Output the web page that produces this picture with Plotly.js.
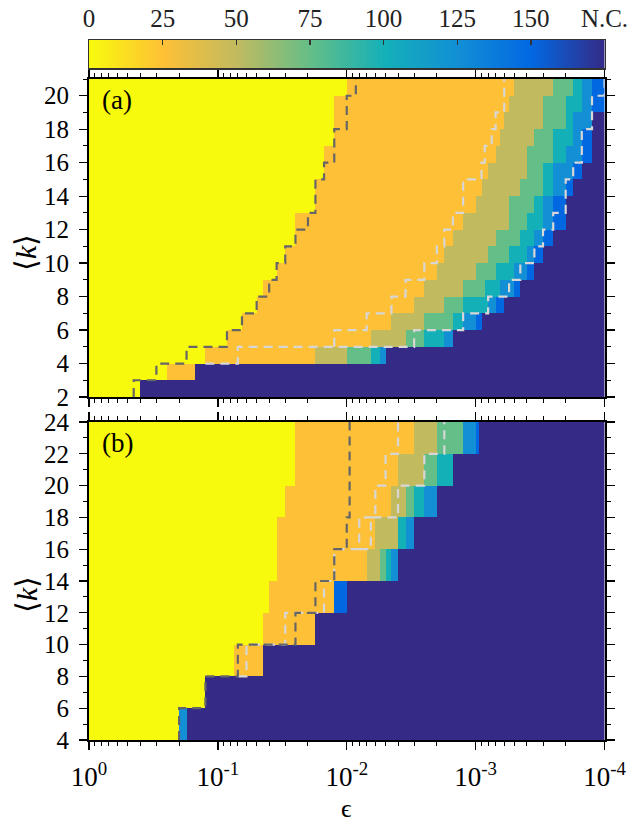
<!DOCTYPE html>
<html><head><meta charset="utf-8">
<script src="https://cdn.plot.ly/plotly-3.0.1.min.js"></script>
<style>html,body{margin:0;padding:0;background:#fff;} #chart{width:628px;height:825px;}</style>
</head><body><div id="chart"></div>
<script>
// ---------------- DATA ----------------
const NC = 175; // "not converged" level
// colour-bar ticks
const cbTicks  = [0, 25, 50, 75, 100, 125, 150, 175];
const cbLabels = ['0', '25', '50', '75', '100', '125', '150', 'N.C.'];
// x axis decades
const decades = [1, 0.1, 0.01, 0.001, 0.0001];
const decadeLabels = ['10<sup>0</sup>', '10<sup>-1</sup>', '10<sup>-2</sup>', '10<sup>-3</sup>', '10<sup>-4</sup>'];

// Panel (a): rows <k> = k .. k+1 ; edges in epsilon (from 1 down to 1e-4), values per segment
const kA = [2,3,4,5,6,7,8,9,10,11,12,13,14,15,16,17,18,19,20];
const edgesA = [
  [1,0.4,1e-4],
  [1,0.25,0.15,1e-4],
  [1,0.125,0.0175,0.01,0.0065,0.0055,0.005,1e-4],
  [1,0.085,0.0065,0.0035,0.0025,0.00175,0.0015,1e-4],
  [1,0.065,0.0045,0.0025,0.0015,0.00125,0.001,0.0009,1e-4],
  [1,0.05,0.003,0.00175,0.00125,0.0008,0.0007,0.0006,1e-4],
  [1,0.045,0.0025,0.00125,0.00085,0.00065,0.0005,0.00045,1e-4],
  [1,0.035,0.002,0.001,0.0007,0.0005,0.0004,0.00035,1e-4],
  [1,0.03,0.00175,0.0008,0.00055,0.0004,0.00035,0.0003,1e-4],
  [1,0.025,0.0015,0.0007,0.00045,0.00035,0.0003,0.00025,1e-4],
  [1,0.025,0.00125,0.00055,0.0004,0.0003,0.00025,0.0002,1e-4],
  [1,0.0175,0.001,0.00055,0.00035,0.0003,0.00025,0.0002,1e-4],
  [1,0.0175,0.0009,0.00045,0.0003,0.00025,0.0002,0.000175,1e-4],
  [1,0.015,0.0008,0.0004,0.0003,0.00025,0.000175,0.00015,1e-4],
  [1,0.015,0.0007,0.0004,0.00025,0.0002,0.00015,0.000125,1e-4],
  [1,0.0125,0.00065,0.00035,0.00025,0.000175,0.00015,0.000125,1e-4],
  [1,0.0125,0.0006,0.0003,0.0002,0.000175,0.000125,1e-4],
  [1,0.0125,0.00055,0.0003,0.0002,0.00015,0.000125,1e-4],
  [1,0.01,0.0005,0.00025,0.000175,0.00015,0.000125,1e-4]
];
const valuesA = [
  [0,NC],
  [0,25,NC],
  [0,25,50,75,100,125,NC],
  [0,25,50,75,100,125,NC],
  [0,25,50,75,100,125,150,NC],
  [0,25,50,75,100,125,150,NC],
  [0,25,50,75,100,125,150,NC],
  [0,25,50,75,100,125,150,NC],
  [0,25,50,75,100,125,150,NC],
  [0,25,50,75,100,125,150,NC],
  [0,25,50,75,100,125,150,NC],
  [0,25,50,75,100,125,150,NC],
  [0,25,50,75,100,125,150,NC],
  [0,25,50,75,100,125,150,NC],
  [0,25,50,75,100,125,150,NC],
  [0,25,50,75,100,125,150,NC],
  [0,25,50,75,100,125,NC],
  [0,25,50,75,100,125,150],
  [0,25,50,75,100,125,150]
];

// Panel (b): rows <k> = k .. k+2
const kB = [4,6,8,10,12,14,16,18,20,22];
const edgesB = [
  [1,0.2,0.175,1e-4],
  [1,0.125,1e-4],
  [1,0.075,0.045,1e-4],
  [1,0.045,0.0175,1e-4],
  [1,0.04,0.0125,0.01,1e-4],
  [1,0.035,0.007,0.0055,0.005,0.0045,0.004,1e-4],
  [1,0.035,0.006,0.004,0.0035,0.003,1e-4],
  [1,0.03,0.0045,0.0035,0.003,0.0025,0.002,1e-4],
  [1,0.025,0.004,0.0025,0.002,0.0015,1e-4],
  [1,0.025,0.003,0.002,0.00125,0.001,0.00095,1e-4]
];
const valuesB = [
  [0,125,NC],
  [0,NC],
  [0,25,NC],
  [0,25,NC],
  [0,25,150,NC],
  [0,25,50,75,100,125,NC],
  [0,25,50,100,125,NC],
  [0,25,50,75,100,125,NC],
  [0,25,50,75,100,NC],
  [0,25,50,75,125,150,NC]
];

// dashed boundary lines (vertical-then-horizontal staircases)
const darkA_eps = [0.45,0.3,0.175,0.085,0.065,0.05,0.04,0.035,0.03,0.025,0.02,0.0175,0.015,0.0125,0.01,0.0085,0.0085];
const darkA_k   = [2,3,4,5,6,7,8,9,10,11,12,13,15,16,18,20,21];
const lightA1_eps = [0.0125,0.007,0.0045,0.0035,0.0025,0.002,0.00175,0.0015,0.00125,0.0009,0.00085,0.00075,0.0007,0.0006,0.0006];
const lightA1_k   = [5,6,7,8,9,10,11,12,13,15,16,17,18,19,21];
const lightA2_eps = [0.125,0.07,0.003,0.00125,0.0008,0.00055,0.00045,0.00035,0.0003,0.00025,0.0002,0.000175,0.00015,0.000125,0.0001,0.0001];
const lightA2_k   = [4,4,5,6,7,8,9,10,11,12,13,15,16,18,20,21];
const darkB_eps = [0.2,0.125,0.07,0.025,0.0175,0.0125,0.01,0.0095,0.0095];
const darkB_k   = [4,6,8,10,12,14,16,18,24];
const lightB1_eps = [0.07,0.06,0.03,0.015,0.0125,0.008,0.006,0.005,0.004,0.004];
const lightB1_k   = [8,8,10,12,14,16,18,20,22,24];
const lightB2_eps = [0.008,0.0065,0.004,0.0025,0.00175,0.00175];
const lightB2_k   = [16,16,18,20,22,24];

// ---------------- BUILD ----------------
const colorscale = [
  [0, '#f8fa0d'], [25/175, '#fec036'], [50/175, '#c2ba5f'], [75/175, '#64be88'],
  [100/175, '#14b0b8'], [125/175, '#128fd5'], [150/175, '#0268e2'], [1, '#352a86']
];
function buildGrid(edgesRows, valRows) {
  const set = new Set();
  edgesRows.forEach(r => r.forEach(e => set.add(e)));
  const xs = Array.from(set).sort((a, b) => a - b);
  const z = edgesRows.map((edges, i) => {
    const row = [];
    for (let j = 0; j < xs.length - 1; j++) {
      const m = Math.sqrt(xs[j] * xs[j + 1]);
      let v = null;
      for (let s = 0; s < edges.length - 1; s++) {
        if (m < edges[s] && m > edges[s + 1]) { v = valRows[i][s]; break; }
      }
      row.push(v);
    }
    return row;
  });
  return { xs, z };
}
const gA = buildGrid(edgesA, valuesA);
const gB = buildGrid(edgesB, valuesB);
const yEdgesA = kA.concat([kA[kA.length - 1] + 1]);
const yEdgesB = kB.concat([kB[kB.length - 1] + 2]);

const minorEps = [];
decades.slice(0, 4).forEach(d => { for (let m = 2; m <= 9; m++) minorEps.push(+(m * d / 10).toPrecision(3)); });

const hm = (g, yE, xa, ya) => ({
  type: 'heatmap', x: g.xs, y: yE, z: g.z, xaxis: xa, yaxis: ya,
  colorscale: colorscale, zmin: 0, zmax: NC, showscale: false, hoverinfo: 'skip'
});
const dash = (xs, ks, color, xa, ya) => ({
  type: 'scatter', mode: 'lines', x: xs, y: ks, xaxis: xa, yaxis: ya,
  line: { shape: 'vh', color: color, width: 2.2, dash: '9px,6px' }, hoverinfo: 'skip', showlegend: false
});
const DARK = '#666666', LIGHT = '#d6d6d6';

const traces = [
  hm(gA, yEdgesA, 'x', 'y'),
  hm(gB, yEdgesB, 'x2', 'y2'),
  dash(lightA2_eps, lightA2_k, LIGHT, 'x', 'y'),
  dash(lightA1_eps, lightA1_k, LIGHT, 'x', 'y'),
  dash(darkA_eps, darkA_k, DARK, 'x', 'y'),
  dash(lightB2_eps, lightB2_k, LIGHT, 'x2', 'y2'),
  dash(lightB1_eps, lightB1_k, LIGHT, 'x2', 'y2'),
  dash(darkB_eps, darkB_k, DARK, 'x2', 'y2'),
  { type: 'heatmap', x: cbTicks, y: [0, 1], z: [cbTicks, cbTicks], zsmooth: 'best',
    xaxis: 'x3', yaxis: 'y3', colorscale: colorscale, zmin: 0, zmax: NC, showscale: false, hoverinfo: 'skip' }
];

const W = 628, H = 825;
const FONT = '"Liberation Serif","Times New Roman",serif';
const xDom = [89 / W, 604.5 / W];
const yDomA = [1 - 397 / H, 1 - 79 / H];
const yDomB = [1 - 740 / H, 1 - 422 / H];
const yDomC = [1 - 68 / H, 1 - 40 / H];

function xAxis(extra) {
  return Object.assign({
    type: 'log', range: [0, -4], domain: xDom, tickmode: 'array', tickvals: decades, ticktext: decadeLabels,
    ticks: 'outside', ticklen: 8, tickwidth: 1.3, tickcolor: '#000',
    showline: true, linewidth: 2, linecolor: '#000', mirror: 'ticks', showgrid: false, zeroline: false,
    minor: { tickmode: 'array', tickvals: minorEps, ticks: 'outside', ticklen: 4, tickwidth: 1, tickcolor: '#000', showgrid: false },
    tickfont: { family: FONT, size: 27, color: '#000' }, ticklabelstandoff: 4, ticklabeloverflow: 'allow', fixedrange: true
  }, extra);
}
function yAxis(extra) {
  return Object.assign({
    tickmode: 'linear', tick0: 0, dtick: 2, ticks: 'outside', ticklen: 8, tickwidth: 1.3, tickcolor: '#000',
    showline: true, linewidth: 2, linecolor: '#000', mirror: 'ticks', showgrid: false, zeroline: false,
    minor: { dtick: 1, ticks: 'outside', ticklen: 4.5, tickwidth: 1, tickcolor: '#000', showgrid: false },
    tickfont: { family: FONT, size: 25, color: '#000' }, ticklabelstandoff: 5, fixedrange: true
  }, extra);
}

const layout = {
  width: W, height: H, margin: { l: 0, r: 0, t: 0, b: 0 },
  paper_bgcolor: '#fff', plot_bgcolor: '#fff', showlegend: false,
  font: { family: FONT, size: 22, color: '#000' },
  xaxis: xAxis({ anchor: 'y', showticklabels: false }),
  yaxis: yAxis({ domain: yDomA, range: [2, 21], anchor: 'x' }),
  xaxis2: xAxis({ anchor: 'y2', showticklabels: true }),
  yaxis2: yAxis({ domain: yDomB, range: [4, 24], anchor: 'x2' }),
  xaxis3: {
    domain: xDom, anchor: 'y3', range: [0, NC], side: 'top', tickmode: 'array', tickvals: cbTicks, ticktext: cbLabels,
    ticks: 'inside', ticklen: 5, tickwidth: 1.3, tickcolor: '#333', showline: true, linewidth: 1.5, linecolor: '#333',
    mirror: true, showgrid: false, zeroline: false, tickfont: { family: FONT, size: 25, color: '#222' },
    ticklabelstandoff: 2, ticklabeloverflow: 'allow', fixedrange: true
  },
  yaxis3: { domain: yDomC, anchor: 'x3', range: [0, 1], showticklabels: false, ticks: '', showline: true,
    linewidth: 1.5, linecolor: '#333', mirror: true, showgrid: false, zeroline: false, fixedrange: true },
  annotations: [
    { text: '(a)', xref: 'x domain', yref: 'y domain', x: 0.022, y: 0.988, xanchor: 'left', yanchor: 'top', showarrow: false, font: { family: FONT, size: 27 } },
    { text: '(b)', xref: 'x2 domain', yref: 'y2 domain', x: 0.022, y: 0.988, xanchor: 'left', yanchor: 'top', showarrow: false, font: { family: FONT, size: 27 } },
    { text: '⟨<i>k</i>⟩', xref: 'paper', yref: 'paper', x: 26 / W, y: 1 - 253 / H, xanchor: 'center', yanchor: 'middle', textangle: -90, showarrow: false, font: { family: FONT, size: 30 } },
    { text: '⟨<i>k</i>⟩', xref: 'paper', yref: 'paper', x: 26 / W, y: 1 - 595 / H, xanchor: 'center', yanchor: 'middle', textangle: -90, showarrow: false, font: { family: FONT, size: 30 } },
    { text: 'ϵ', xref: 'paper', yref: 'paper', x: (xDom[0] + xDom[1]) / 2, y: 1 - 808 / H, xanchor: 'center', yanchor: 'middle', showarrow: false, font: { family: FONT, size: 26 } }
  ]
};

Plotly.newPlot('chart', traces, layout, { staticPlot: true, displayModeBar: false });
</script>
</body></html>
